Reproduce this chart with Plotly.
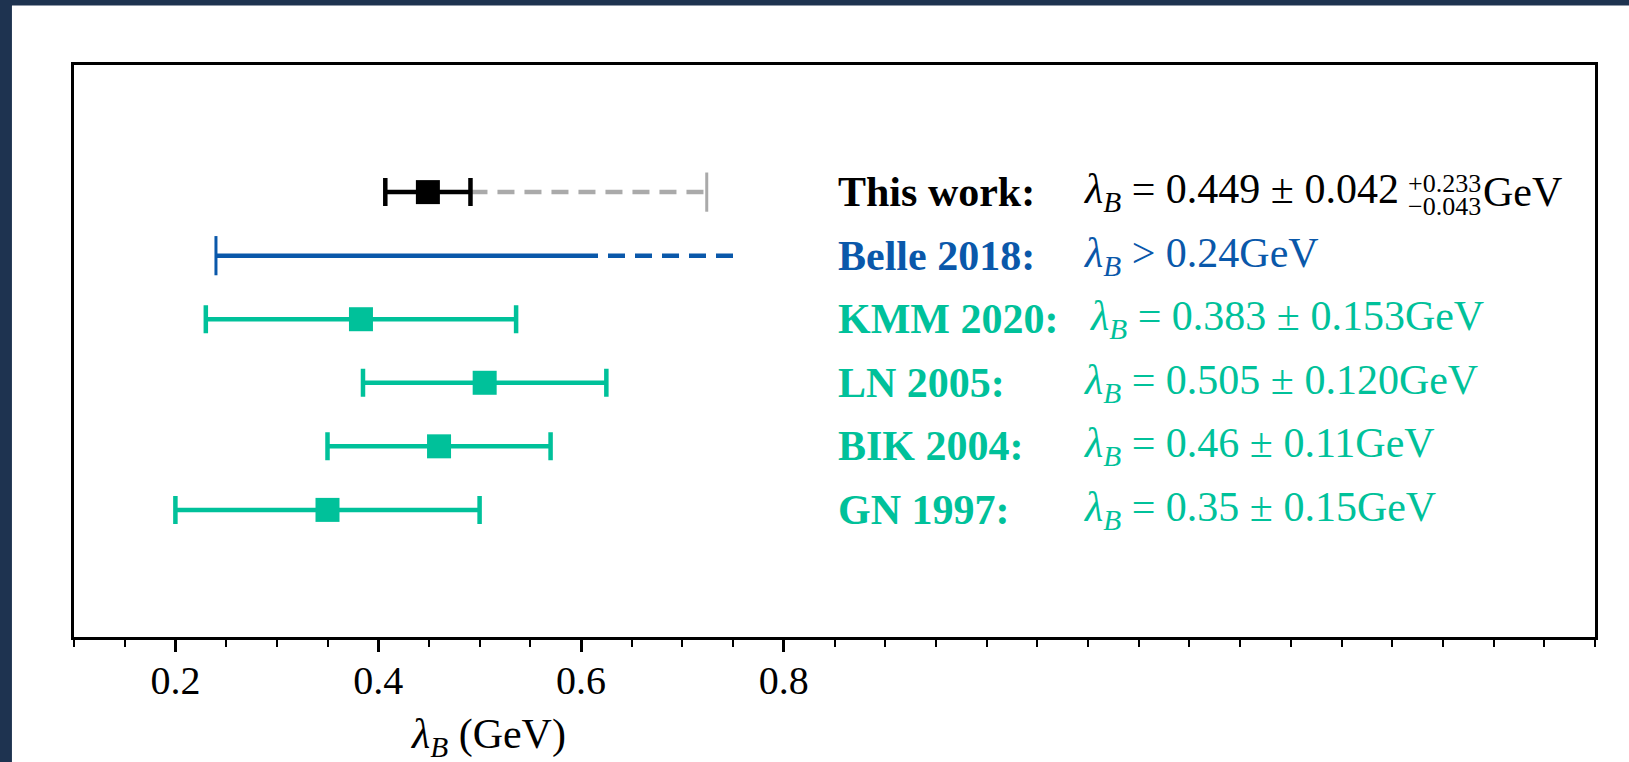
import plotly.graph_objects as go

# ---- data (GeV) -------------------------------------------------------------
names = ["This work:", "Belle 2018:", "KMM 2020:", "LN 2005:", "BIK 2004:", "GN 1997:"]
rows = [6, 5, 4, 3, 2, 1]
central_txt = ["0.449", None, "0.383", "0.505", "0.46", "0.35"]
error_txt = ["0.042", None, "0.153", "0.120", "0.11", "0.15"]

# one-sided systematic band of this work
sys_plus_txt = "0.233"
sys_minus_txt = "0.043"

# Belle 2018 lower bound, shown as an open-ended band
belle_lower_txt = "0.24"
belle_solid_end = 0.60
belle_dash_end = 0.75

x_ticks = [0.2, 0.4, 0.6, 0.8]
x_range = [0.1, 1.6]
y_range = [-1, 8]

# ---- styling ----------------------------------------------------------------
BLACK = "#000000"
GREY = "#AAAAAA"
BLUE = "#0A58AA"
GREEN = "#00C19A"
NAVY = "#1E3350"
FONT = "Liberation Serif"
row_colors = [BLACK, BLUE, GREEN, GREEN, GREEN, GREEN]
LW = 4.5
CAP = 14
MSIZE = 24
DASH = "17px,10px"

central = [float(s) if s else None for s in central_txt]
error = [float(s) if s else None for s in error_txt]
sys_plus = float(sys_plus_txt)
belle_lower = float(belle_lower_txt)

fig = go.Figure()

# this work: systematic upper extension (dashed grey) with an end cap
x_hi = central[0] + error[0]
x_sys = x_hi + sys_plus
fig.add_trace(go.Scatter(x=[x_hi, x_sys], y=[rows[0], rows[0]], mode="lines",
                         line=dict(color=GREY, width=LW, dash=DASH),
                         hoverinfo="skip", showlegend=False))
fig.add_trace(go.Scatter(x=[x_sys], y=[rows[0]], mode="markers",
                         marker=dict(symbol="line-ns", size=2 * CAP,
                                     line=dict(color=GREY, width=3)),
                         hoverinfo="skip", showlegend=False))

# Belle lower limit: solid then dashed continuation
fig.add_trace(go.Scatter(x=[belle_lower, belle_solid_end], y=[rows[1], rows[1]],
                         mode="lines", line=dict(color=BLUE, width=LW),
                         hoverinfo="skip", showlegend=False))
fig.add_trace(go.Scatter(x=[belle_solid_end, belle_dash_end], y=[rows[1], rows[1]],
                         mode="lines", line=dict(color=BLUE, width=LW, dash=DASH),
                         hoverinfo="skip", showlegend=False))
fig.add_trace(go.Scatter(x=[belle_lower], y=[rows[1]], mode="markers",
                         marker=dict(symbol="line-ns", size=2 * CAP,
                                     line=dict(color=BLUE, width=3)),
                         hoverinfo="skip", showlegend=False))

# central values with symmetric uncertainties
for i, (c, e) in enumerate(zip(central, error)):
    if c is None:
        continue
    col = row_colors[i]
    fig.add_trace(go.Scatter(
        x=[c], y=[rows[i]], mode="markers",
        marker=dict(symbol="square", size=MSIZE, color=col, line=dict(width=0)),
        error_x=dict(type="data", array=[e], symmetric=True, color=col,
                     thickness=LW, width=CAP),
        hoverinfo="skip", showlegend=False))

# ---- text column ------------------------------------------------------------
LABEL_X = 0.852
EQ_X = [1.094, 1.094, 1.100, 1.094, 1.094, 1.094]
FS = 42
SFS = 26
lam = "<i>λ</i><sub><i>B</i></sub>"

annotations = []
for i, name in enumerate(names):
    col = row_colors[i]
    annotations.append(dict(x=LABEL_X, y=rows[i], xref="x", yref="y",
                            text=f"<b>{name}</b>", showarrow=False,
                            xanchor="left", yanchor="middle", borderpad=0,
                            font=dict(family=FONT, size=FS, color=col)))
    if i == 0:
        eq = f"{lam} = {central_txt[i]} ± {error_txt[i]}"
    elif i == 1:
        eq = f"{lam} > {belle_lower_txt}GeV"
    else:
        eq = f"{lam} = {central_txt[i]} ± {error_txt[i]}GeV"
    annotations.append(dict(x=EQ_X[i], y=rows[i], xref="x", yref="y",
                            text=eq, showarrow=False,
                            xanchor="left", yanchor="middle", borderpad=0,
                            font=dict(family=FONT, size=FS, color=col)))

# stacked asymmetric systematic of this work, followed by the unit
SCRIPT_X = 1.4145
UNIT_X = 1.4885
annotations.append(dict(x=SCRIPT_X, y=rows[0] + 0.14, xref="x", yref="y",
                        text=f"+{sys_plus_txt}", showarrow=False,
                        xanchor="left", yanchor="middle", borderpad=0,
                        font=dict(family=FONT, size=SFS, color=BLACK)))
annotations.append(dict(x=SCRIPT_X, y=rows[0] - 0.23, xref="x", yref="y",
                        text=f"−{sys_minus_txt}", showarrow=False,
                        xanchor="left", yanchor="middle", borderpad=0,
                        font=dict(family=FONT, size=SFS, color=BLACK)))
annotations.append(dict(x=UNIT_X, y=rows[0], xref="x", yref="y",
                        text="GeV", showarrow=False,
                        xanchor="left", yanchor="middle", borderpad=0,
                        font=dict(family=FONT, size=FS, color=BLACK)))

# x-axis title (sits left of centre)
annotations.append(dict(x=0.272, y=-0.175, xref="paper", yref="paper",
                        text=f"{lam} (GeV)", showarrow=False,
                        xanchor="center", yanchor="middle", borderpad=0,
                        font=dict(family=FONT, size=FS, color=BLACK)))

fig.update_layout(
    width=1629, height=762,
    margin=dict(l=74, r=34, t=64.5, b=125.3, pad=0),
    paper_bgcolor=NAVY, plot_bgcolor="white",
    annotations=annotations,
    shapes=[dict(type="rect", xref="paper", yref="paper",
                 x0=-0.0408, x1=1.03, y0=-0.23, y1=1.104,
                 fillcolor="white", line=dict(width=0), layer="below")],
    xaxis=dict(range=x_range, tickvals=x_ticks, ticktext=[f"{v:.1f}" for v in x_ticks],
               ticks="outside", ticklen=12, tickwidth=2.5, tickcolor=BLACK,
               ticklabelstandoff=-6,
               showline=True, linewidth=2.5, linecolor=BLACK, mirror=True,
               showgrid=False, zeroline=False,
               tickfont=dict(family=FONT, size=40, color=BLACK),
               minor=dict(tick0=0.1, dtick=0.05, ticks="outside", ticklen=7,
                          tickwidth=2, tickcolor=BLACK, showgrid=False)),
    yaxis=dict(range=y_range, showticklabels=False, ticks="",
               showline=True, linewidth=2.5, linecolor=BLACK, mirror=True,
               showgrid=False, zeroline=False),
)

fig.write_html("out.html")
